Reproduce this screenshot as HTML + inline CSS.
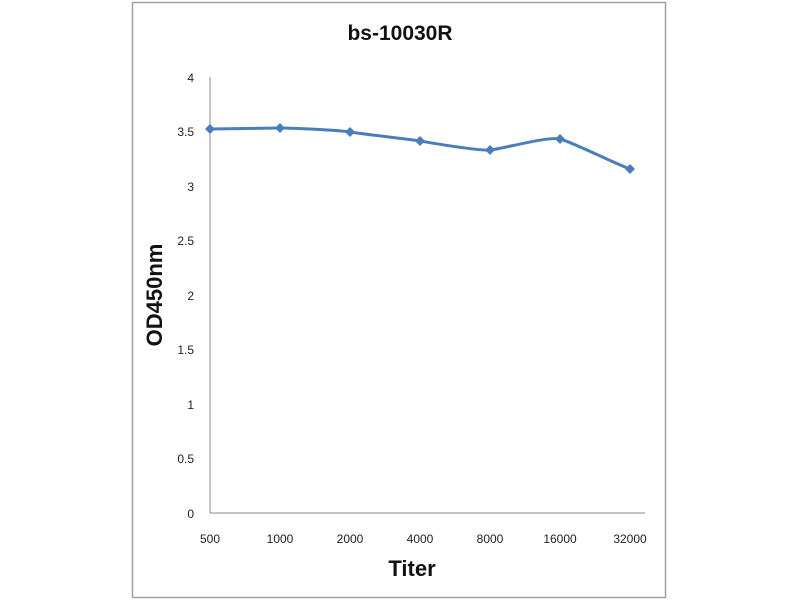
<!DOCTYPE html>
<html><head><style>body{margin:0;background:#fff}</style></head><body>
<svg width="800" height="600" xmlns="http://www.w3.org/2000/svg" font-family="Liberation Sans, sans-serif">
<rect x="0" y="0" width="800" height="600" fill="#fff"/>
<rect x="132.5" y="2.5" width="533" height="595" fill="#fff" stroke="#a0a0a0" stroke-width="1.5"/>
<text x="400" y="40" font-size="21" font-weight="bold" text-anchor="middle" fill="#111">bs-10030R</text>
<line x1="210" y1="77" x2="210" y2="513" stroke="#888" stroke-width="1"/>
<line x1="210" y1="513" x2="645" y2="513" stroke="#888" stroke-width="1"/>
<g font-size="12" fill="#222" text-anchor="end">
<text x="194" y="82">4</text><text x="194" y="136">3.5</text><text x="194" y="191">3</text>
<text x="194" y="245">2.5</text><text x="194" y="300">2</text><text x="194" y="354">1.5</text>
<text x="194" y="409">1</text><text x="194" y="463">0.5</text><text x="194" y="518">0</text>
</g>
<g font-size="12" fill="#222" text-anchor="middle">
<text x="210" y="543">500</text><text x="280" y="543">1000</text><text x="350" y="543">2000</text>
<text x="420" y="543">4000</text><text x="490" y="543">8000</text><text x="560" y="543">16000</text><text x="630" y="543">32000</text>
</g>
<text x="412" y="576" font-size="22" font-weight="bold" text-anchor="middle" fill="#111">Titer</text>
<text transform="translate(162,295) rotate(-90)" font-size="22" font-weight="bold" text-anchor="middle" fill="#111">OD450nm</text>
<path d="M210,129 C222,129 268,128 280,128 C292,128 338,130 350,132 C362,134 408,139 420,141 C432,143 478,151 490,150 C502,149 548,136 560,139 C572,142 618,165 630,169" fill="none" stroke="#4a7ebb" stroke-width="3"/>
<g fill="#4a7ebb">
<path d="M210,124l5,5l-5,5l-5,-5z"/><path d="M280,123l5,5l-5,5l-5,-5z"/><path d="M350,127l5,5l-5,5l-5,-5z"/>
<path d="M420,136l5,5l-5,5l-5,-5z"/><path d="M490,145l5,5l-5,5l-5,-5z"/><path d="M560,134l5,5l-5,5l-5,-5z"/>
<path d="M630,164l5,5l-5,5l-5,-5z"/>
</g>
</svg>
</body></html>
